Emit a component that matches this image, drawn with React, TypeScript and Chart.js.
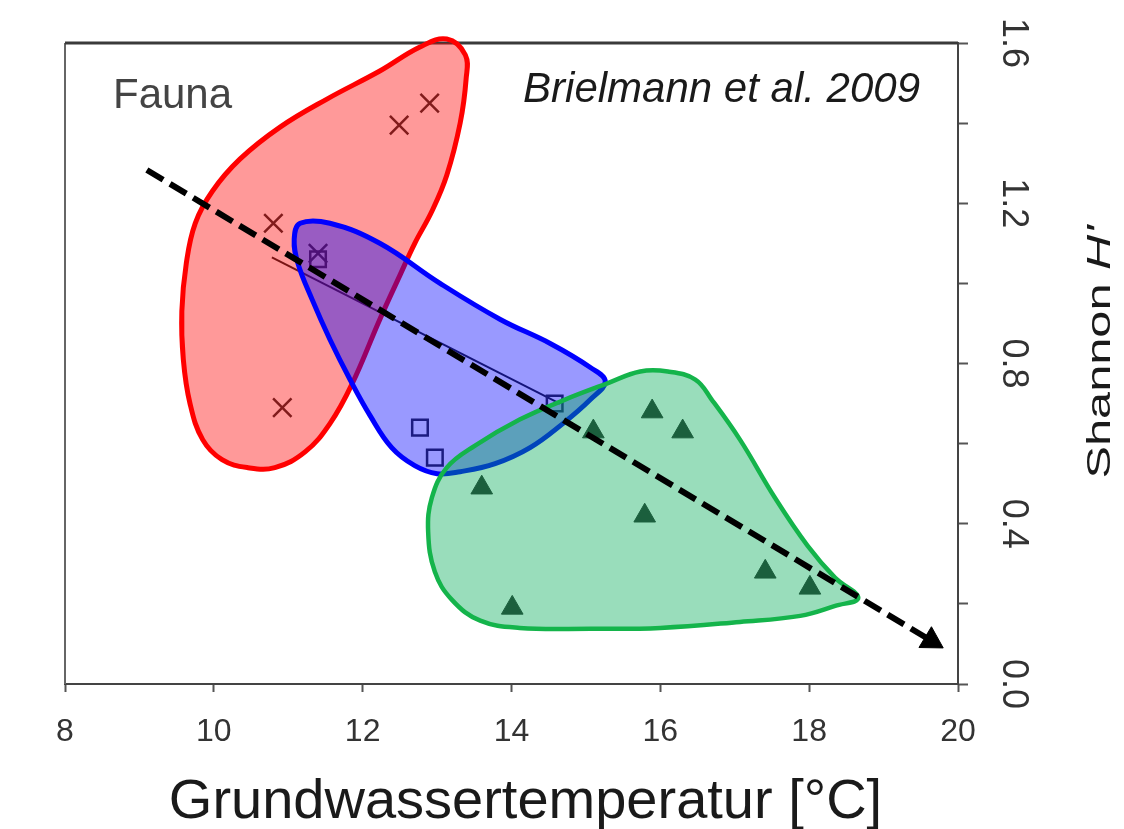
import React, { useEffect, useRef } from "react";
import { Chart, registerables } from "chart.js";

Chart.register(...registerables);

// ---- axis ticks ----
const xTickValues = [8, 10, 12, 14, 16, 18, 20];
const yTickValues = [0, 0.2, 0.4, 0.6, 0.8, 1.0, 1.2, 1.4, 1.6];
const yTickLabels = ["0.0", "", "0.4", "", "0.8", "", "1.2", "", "1.6"];

// ---- observations (x: groundwater temperature °C, y: Shannon H') ----
const crossX = [12.9, 12.49, 10.8, 11.4, 10.92];
const crossY = [1.45, 1.395, 1.15, 1.075, 0.69];
const squareX = [11.4, 12.77, 12.97, 14.58];
const squareY = [1.06, 0.64, 0.565, 0.7];
const triangleX = [13.6, 14.01, 15.1, 15.89, 16.3, 15.79, 17.41, 18.01];
const triangleY = [0.49, 0.19, 0.63, 0.68, 0.63, 0.42, 0.28, 0.24];

// ---- group envelopes (closed outlines) ----
const redHullX = [13.13, 13.38, 13.39, 13.31, 13.13, 12.93, 12.7, 12.5, 12.23, 11.86, 11.56, 11.23, 10.82, 10.46, 10.11, 9.85, 9.68, 9.59, 9.57, 9.63, 9.75, 9.98, 10.35, 10.89, 11.52, 12.23, 12.77];
const redHullY = [1.61, 1.57, 1.51, 1.4, 1.27, 1.18, 1.1, 1.02, 0.91, 0.75, 0.65, 0.58, 0.54, 0.54, 0.56, 0.61, 0.7, 0.81, 0.93, 1.05, 1.15, 1.23, 1.31, 1.39, 1.46, 1.53, 1.59];
const blueHullX = [11.16, 11.56, 12.23, 13.04, 13.85, 14.52, 15.06, 15.26, 15.06, 14.69, 14.25, 13.78, 13.31, 13.0, 12.7, 12.39, 12.1, 11.83, 11.56, 11.32, 11.13, 11.08];
const blueHullY = [1.15, 1.15, 1.1, 1.0, 0.91, 0.85, 0.79, 0.755, 0.71, 0.65, 0.59, 0.55, 0.53, 0.525, 0.545, 0.59, 0.67, 0.76, 0.86, 0.96, 1.05, 1.11];
const greenHullX = [18.66, 18.35, 17.88, 17.07, 16.0, 15.06, 14.11, 13.58, 13.2, 12.97, 12.88, 12.93, 13.13, 13.51, 14.11, 14.72, 15.28, 15.73, 16.1, 16.47, 16.69, 17.07, 17.54, 17.98, 18.35];
const greenHullY = [0.215, 0.195, 0.17, 0.155, 0.14, 0.138, 0.14, 0.158, 0.21, 0.28, 0.38, 0.465, 0.54, 0.595, 0.66, 0.71, 0.75, 0.78, 0.78, 0.76, 0.71, 0.61, 0.465, 0.345, 0.265];

// ---- trend lines ----
const trendX = [9.1, 19.64];
const trendY = [1.283, 0.108];
const fitX = [10.78, 14.65];
const fitY = [1.065, 0.7];

const FONT = 'Arial, "Liberation Sans", sans-serif';

const zip = (xs: number[], ys: number[]) => xs.map((x, i) => ({ x, y: ys[i] }));

const loopPlugin = {
  id: "closeLoop",
  afterDatasetUpdate(chart: any, args: any) {
    const ds = chart.data.datasets[args.index];
    const line = args.meta && args.meta.dataset;
    if (ds && ds.closedShape && line) {
      line._loop = true;
      line._fullLoop = true;
    }
  },
};

const framePlugin = {
  id: "frame",
  beforeDatasetsDraw(chart: any) {
    const { ctx, chartArea: a } = chart;
    ctx.save();
    ctx.lineCap = "butt";
    ctx.strokeStyle = "#666";
    ctx.lineWidth = 2;
    ctx.beginPath();
    ctx.moveTo(a.left, a.top);
    ctx.lineTo(a.left, a.bottom);
    ctx.stroke();
    ctx.strokeStyle = "#3a3a3a";
    ctx.lineWidth = 3;
    ctx.beginPath();
    ctx.moveTo(a.left, a.top);
    ctx.lineTo(a.right, a.top);
    ctx.stroke();
    ctx.restore();
  },
};

const textPlugin = {
  id: "texts",
  afterDraw(chart: any) {
    const { ctx, chartArea: a } = chart;
    ctx.save();
    ctx.textBaseline = "alphabetic";
    // panel label
    ctx.font = `42px ${FONT}`;
    ctx.fillStyle = "#444";
    ctx.textAlign = "left";
    ctx.fillText("Fauna", a.left + 48, a.top + 65);
    // source
    ctx.font = `italic 42px ${FONT}`;
    ctx.fillStyle = "#1a1a1a";
    ctx.textAlign = "right";
    ctx.fillText("Brielmann et al. 2009", a.right - 38, a.top + 59);
    // x title
    ctx.font = `56px ${FONT}`;
    ctx.fillStyle = "#1a1a1a";
    ctx.textAlign = "center";
    ctx.fillText("Grundwassertemperatur [°C]", (a.left + a.right) / 2 + 14, a.bottom + 134);
    // y title (rotated, reads bottom to top)
    const part1 = "Shannon ";
    const part2 = "H'";
    const f1 = `34px ${FONT}`;
    const f2 = `italic 34px ${FONT}`;
    ctx.font = f1;
    const w1 = ctx.measureText(part1).width;
    ctx.font = f2;
    const w2 = ctx.measureText(part2).width;
    const targetLen = 253;
    const sx = targetLen / (w1 + w2);
    ctx.translate(a.right + 152, (a.top + a.bottom) / 2 + 115);
    ctx.rotate(-Math.PI / 2);
    ctx.scale(sx, 1);
    ctx.textAlign = "left";
    ctx.fillStyle = "#1a1a1a";
    ctx.font = f1;
    ctx.fillText(part1, 0, 0);
    ctx.font = f2;
    ctx.fillText(part2, w1, 0);
    ctx.restore();
  },
};

export default function App() {
  const ref = useRef<HTMLCanvasElement>(null);

  useEffect(() => {
    if (!ref.current) return;
    Chart.defaults.font.family = FONT;
    const markerColor = "#2e2e2e";
    const hullCommon = {
      showLine: true,
      fill: "shape",
      tension: 0.4,
      pointRadius: 0,
      pointHoverRadius: 0,
      capBezierPoints: false,
      clip: false,
      closedShape: true,
    };
    const chart = new Chart(ref.current, {
      type: "scatter",
      data: {
        datasets: [
          {
            label: "Trend",
            data: zip(trendX, trendY),
            showLine: true,
            borderColor: "#000",
            borderWidth: 6,
            borderDash: [19, 8],
            borderCapStyle: "butt",
            pointRadius: [0, 14],
            pointHoverRadius: [0, 14],
            pointStyle: "triangle",
            pointBackgroundColor: "#000",
            pointBorderColor: "#000",
            pointBorderWidth: 1,
            pointRotation: (c: any) => {
              const xs = c.chart.scales.x;
              const ys = c.chart.scales.y;
              const dx = xs.getPixelForValue(trendX[1]) - xs.getPixelForValue(trendX[0]);
              const dy = ys.getPixelForValue(trendY[1]) - ys.getPixelForValue(trendY[0]);
              return (Math.atan2(dy, dx) * 180) / Math.PI + 90;
            },
            clip: false,
            order: 0,
          } as any,
          {
            label: "Green group",
            data: zip(greenHullX, greenHullY),
            borderColor: "rgb(20,180,75)",
            borderWidth: 4.5,
            backgroundColor: "rgba(0,170,85,0.4)",
            order: 1,
            ...hullCommon,
          } as any,
          {
            label: "Blue group",
            data: zip(blueHullX, blueHullY),
            borderColor: "rgb(0,0,255)",
            borderWidth: 5,
            backgroundColor: "rgba(0,0,255,0.4)",
            order: 2,
            ...hullCommon,
          } as any,
          {
            label: "Red group",
            data: zip(redHullX, redHullY),
            borderColor: "rgb(255,0,0)",
            borderWidth: 5,
            backgroundColor: "rgba(255,0,0,0.4)",
            order: 3,
            ...hullCommon,
          } as any,
          {
            label: "Crosses",
            data: zip(crossX, crossY),
            pointStyle: "crossRot",
            pointRadius: 13,
            pointBorderWidth: 2.5,
            pointBorderColor: markerColor,
            pointBackgroundColor: markerColor,
            order: 4,
          } as any,
          {
            label: "Squares",
            data: zip(squareX, squareY),
            pointStyle: "rect",
            pointRadius: 11,
            pointBorderWidth: 2.5,
            pointBorderColor: markerColor,
            pointBackgroundColor: "rgba(0,0,0,0)",
            order: 4,
          } as any,
          {
            label: "Triangles",
            data: zip(triangleX, triangleY),
            pointStyle: "triangle",
            pointRadius: 12.5,
            pointBorderWidth: 1,
            pointBorderColor: markerColor,
            pointBackgroundColor: markerColor,
            order: 4,
          } as any,
          {
            label: "Fit",
            data: zip(fitX, fitY),
            showLine: true,
            borderColor: "#222",
            borderWidth: 2,
            pointRadius: 0,
            order: 5,
          } as any,
        ],
      },
      options: {
        responsive: false,
        animation: false,
        events: [],
        layout: { padding: { left: 65, top: 43, right: 0, bottom: 0 } },
        plugins: {
          legend: { display: false },
          tooltip: { enabled: false },
        },
        scales: {
          x: {
            type: "linear",
            position: "bottom",
            min: 8,
            max: 20,
            afterBuildTicks: (s: any) => {
              s.ticks = xTickValues.map((v) => ({ value: v }));
            },
            ticks: {
              autoSkip: false,
              maxRotation: 0,
              padding: 21,
              color: "#333",
              font: { size: 32, family: FONT },
              callback: (v: any) => String(v),
            },
            grid: {
              drawOnChartArea: false,
              drawTicks: true,
              tickLength: 8,
              tickWidth: 2,
              color: "#555",
            },
            border: { display: true, color: "#444", width: 2 },
            afterFit: (s: any) => {
              s.height = 145;
            },
          },
          y: {
            type: "linear",
            position: "right",
            min: 0,
            max: 1.6,
            afterBuildTicks: (s: any) => {
              s.ticks = yTickValues.map((v) => ({ value: v }));
            },
            ticks: {
              autoSkip: false,
              minRotation: -90,
              maxRotation: -90,
              crossAlign: "center",
              padding: 20,
              color: "#333",
              font: { size: 36, family: FONT },
              callback: (_v: any, i: number) => yTickLabels[i],
            },
            grid: {
              drawOnChartArea: false,
              drawTicks: true,
              tickLength: 10,
              tickWidth: 2,
              color: "#555",
            },
            border: { display: true, color: "#444", width: 2 },
            afterFit: (s: any) => {
              s.width = 166;
            },
          },
        },
      } as any,
      plugins: [loopPlugin, framePlugin, textPlugin],
    });
    return () => chart.destroy();
  }, []);

  return (
    <div
      style={{
        position: "fixed",
        left: 0,
        top: 0,
        width: 1124,
        height: 829,
        background: "#fff",
      }}
    >
      <canvas ref={ref} width={1124} height={829} style={{ display: "block", width: 1124, height: 829 }} />
    </div>
  );
}
